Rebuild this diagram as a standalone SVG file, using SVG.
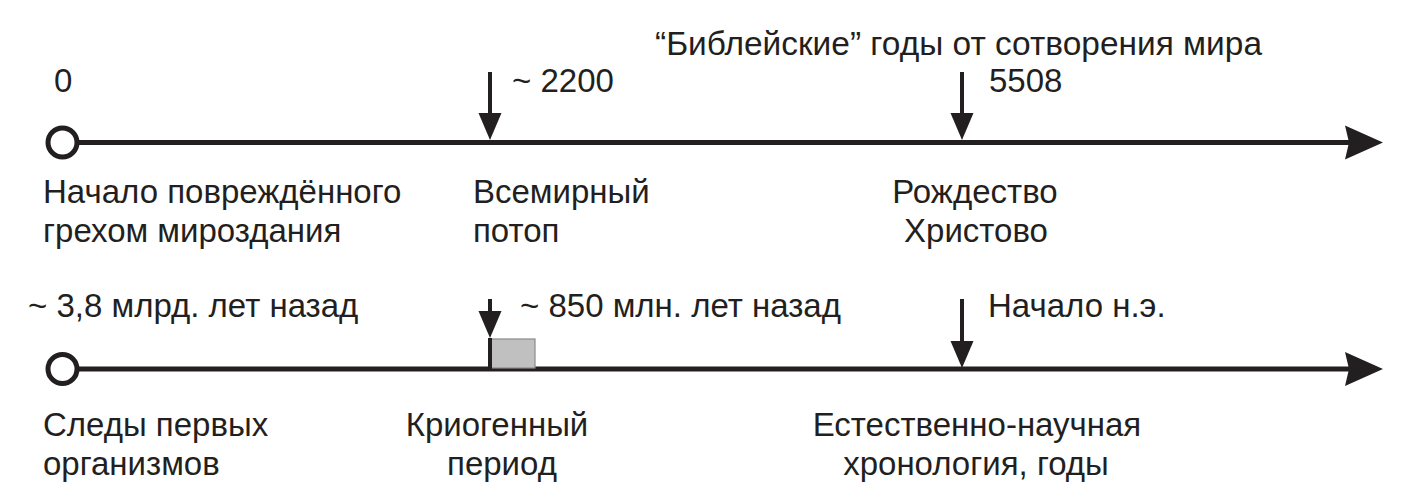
<svg xmlns="http://www.w3.org/2000/svg" width="1409" height="494" viewBox="0 0 1409 494">
<style>
.t{font-family:"Liberation Sans",Arial,sans-serif;font-size:33px;fill:#231f20}
.m{text-anchor:middle}
.axis{stroke:#231f20;stroke-width:5;fill:none}
.ptr{stroke:#231f20;stroke-width:4;fill:none}
.orig{fill:#fff;stroke:#231f20;stroke-width:5}
</style>
<defs>
<marker id="axHead" markerUnits="userSpaceOnUse" viewBox="0 -18 40 36" markerWidth="40" markerHeight="36" refX="5" refY="0" orient="auto" overflow="visible">
<path d="M0,-17 L38,0 L0,17 L4,0 z" fill="#231f20"/>
</marker>
<marker id="dnHead" markerUnits="userSpaceOnUse" viewBox="0 -12 28 24" markerWidth="28" markerHeight="24" refX="7" refY="0" orient="auto" overflow="visible">
<path d="M0,-11.5 L27,0 L0,11.5 z" fill="#231f20"/>
</marker>
</defs>
<rect width="1409" height="494" fill="#fff"/>
<g id="connectors">
<line class="axis" x1="77" y1="142.5" x2="1350" y2="142.5" marker-end="url(#axHead)"/>
<line class="axis" x1="77" y1="369" x2="1350" y2="369" marker-end="url(#axHead)"/>
<line class="ptr" x1="490" y1="72" x2="490" y2="120" marker-end="url(#dnHead)"/>
<line class="ptr" x1="962" y1="72" x2="962" y2="120" marker-end="url(#dnHead)"/>
<line class="ptr" x1="490" y1="299" x2="490" y2="318" marker-end="url(#dnHead)"/>
<line class="ptr" x1="962" y1="299" x2="962" y2="348" marker-end="url(#dnHead)"/>
</g>
<g id="title"><text class="t" x="655" y="55" textLength="607" lengthAdjust="spacingAndGlyphs">“Библейские” годы от сотворения мира</text></g>
<g id="n-start-bible">
<circle class="orig" cx="62.5" cy="142.5" r="14.5"/>
<text class="t" x="54" y="92">0</text>
<text class="t" x="43" y="203">Начало повреждённого</text>
<text class="t" x="43" y="242">грехом мироздания</text>
</g>
<g id="n-flood">
<text class="t" x="512" y="92">~ 2200</text>
<text class="t" x="473" y="203">Всемирный</text>
<text class="t" x="473" y="242">потоп</text>
</g>
<g id="n-christ">
<text class="t" x="989" y="92">5508</text>
<text class="t m" x="975" y="203">Рождество</text>
<text class="t m" x="976" y="242">Христово</text>
</g>
<g id="n-first-life">
<circle class="orig" cx="62.5" cy="369" r="14.5"/>
<text class="t" x="28" y="317">~ 3,8 млрд. лет назад</text>
<text class="t" x="43" y="436">Следы первых</text>
<text class="t" x="43" y="475">организмов</text>
</g>
<g id="n-cryogenian">
<rect x="490" y="339" width="45" height="29" fill="#c0c0c0" stroke="#8a8a8a" stroke-width="1.2"/>
<line x1="490" y1="338" x2="490" y2="369" stroke="#231f20" stroke-width="4"/>
<text class="t" x="520" y="317">~ 850 млн. лет назад</text>
<text class="t m" x="497" y="436">Криогенный</text>
<text class="t m" x="502" y="475">период</text>
</g>
<g id="n-ce">
<text class="t" x="988" y="317">Начало н.э.</text>
<text class="t m" x="977" y="436">Естественно-научная</text>
<text class="t m" x="976" y="475">хронология, годы</text>
</g>
</svg>
